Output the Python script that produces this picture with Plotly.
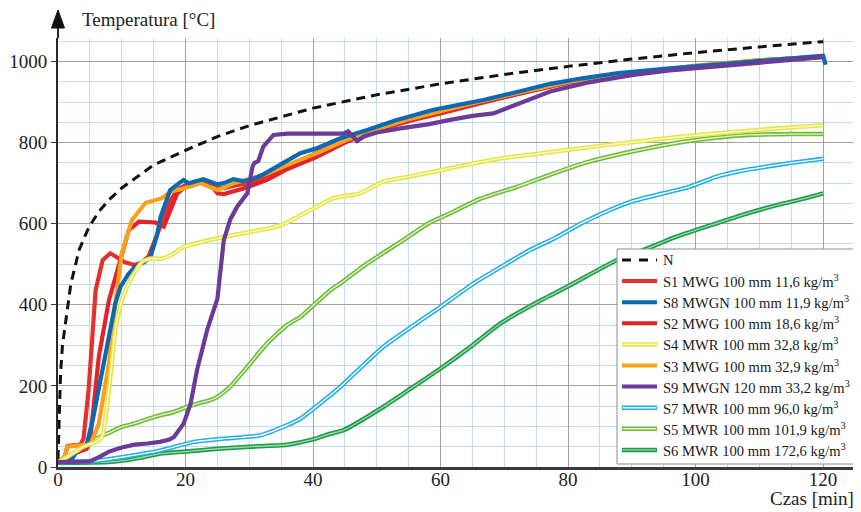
import plotly.graph_objects as go

# ---------------- data ----------------
N_t = [0, 0.15, 0.4, 0.7, 1.2, 2, 3.3, 4.8, 6.4, 8.2, 10, 15, 20, 25, 30, 40, 50, 60, 70, 80, 90, 100, 110, 120]
N_T = [20, 120, 230, 300, 360, 450, 535, 590, 630, 662, 688, 745, 781, 815, 842, 885, 918, 945, 968, 988, 1006, 1022, 1036, 1049]

S1_t = [0, 1.0, 1.5, 3.5, 4.0, 4.8, 5.9, 7.0, 8.2, 9.5, 10.5, 12.0, 13.2, 14.2, 15.5, 16.5, 17.6, 18.7, 20, 21.5, 23, 24.5, 26, 28, 30, 33, 36, 40, 44, 48, 52, 56, 60, 65, 70, 75, 80, 90, 100, 110, 120]
S1_T = [12, 22, 52, 55, 70, 190, 436, 510, 527, 515, 505, 498, 505, 520, 570, 615, 655, 685, 695, 700, 703, 690, 688, 695, 700, 720, 742, 772, 800, 822, 840, 857, 872, 893, 912, 932, 950, 968, 988, 1002, 1012]

S8_t = [0, 2, 3, 4.5, 5.5, 6.5, 7.4, 8.2, 9.0, 9.8, 11, 12.1, 13.5, 14.5, 15.5, 16.1, 17.6, 19, 19.7, 20.5, 21.5, 22.8, 24, 25, 26, 27.5, 29, 30.2, 32, 35.4, 38, 40.6, 44.3, 48.5, 53, 58.9, 61.5, 66.7, 72, 77.2, 82, 87.6, 95, 103.3, 110, 115, 120, 120.4]
S8_T = [12, 15, 40, 55, 120, 200, 272, 340, 404, 444, 475, 494, 505, 518, 570, 617, 683, 700, 708, 700, 705, 710, 703, 697, 700, 710, 705, 708, 720, 749, 774, 786, 811, 831, 855, 881, 889, 905, 925, 945, 958, 971, 982, 992, 1000, 1006, 1014, 992]

S2_t = [0, 1.5, 2, 4.5, 5.0, 6.4, 8.0, 9.5, 11.1, 12.7, 14, 15.3, 16.6, 17.6, 18.7, 20.3, 22, 22.9, 24, 25, 26, 27.5, 29.1, 32.8, 36, 40.6, 45, 50, 55, 60, 65, 70, 80, 90, 100, 110, 120]
S2_T = [12, 15, 30, 45, 60, 272, 412, 494, 584, 605, 603, 603, 593, 634, 675, 695, 700, 704, 695, 675, 673, 680, 687, 708, 735, 765, 800, 832, 855, 875, 895, 912, 948, 970, 988, 1003, 1012]

S4_t = [0, 2, 4, 6, 6.9, 8, 9, 10, 11.6, 13.2, 14.5, 16.3, 18, 19.7, 22, 25, 30.2, 33, 35.4, 38, 40.6, 43.2, 47.4, 51, 55, 58.9, 61.5, 65, 69.4, 75, 79.8, 85, 90, 98, 105, 112, 120]
S4_T = [12, 30, 50, 62, 74, 189, 338, 412, 469, 506, 514, 514, 525, 543, 553, 564, 580, 588, 599, 620, 642, 663, 675, 704, 716, 728, 737, 748, 761, 772, 782, 792, 801, 815, 825, 834, 843]

S3_t = [0, 1, 1.5, 4.5, 5.5, 6.4, 8.0, 9.0, 10.0, 11.6, 13.7, 16.3, 17.6, 19.7, 22.3, 24, 25, 26.5, 27.5, 30, 32.8, 36, 40.6, 45, 50, 55, 60, 65, 70, 80, 90, 100, 110, 120]
S3_T = [12, 25, 50, 55, 70, 107, 256, 404, 527, 609, 651, 663, 679, 687, 700, 690, 683, 692, 700, 710, 724, 745, 774, 805, 833, 858, 878, 897, 915, 950, 970, 990, 1003, 1012]

S9_t = [0, 5, 6.5, 8, 10, 12, 14, 16, 17.5, 18.2, 19.7, 20.8, 21.8, 23.4, 25, 26, 27, 28.1, 29.7, 30.5, 30.8, 31.4, 32.2, 33.8, 36, 40, 44.8, 45.5, 46.9, 48, 50, 53.7, 58, 61.5, 65, 68.3, 72, 77.2, 83, 90.2, 96, 103.3, 110, 115, 120]
S9_T = [12, 14, 25, 38, 48, 55, 58, 62, 68, 74, 107, 156, 239, 338, 415, 559, 610, 642, 675, 740, 750, 754, 790, 819, 822, 822, 822, 828, 804, 815, 825, 835, 845, 856, 866, 872, 895, 926, 948, 967, 978, 987, 997, 1004, 1011]

S7_t = [0, 5, 10, 16.1, 21.3, 26, 31.7, 35.9, 38, 42.7, 44.3, 51, 60, 65.2, 70.4, 74, 78, 82, 86, 90, 95, 99, 103.3, 107, 111.2, 115, 120]
S7_T = [12, 14, 24, 41, 62, 70, 78, 103, 119, 177, 198, 296, 395, 453, 502, 535, 565, 600, 630, 655, 675, 691, 716, 730, 741, 750, 760]

S5_t = [0, 1.5, 3, 4.8, 6, 8.2, 10, 11.9, 14, 16.1, 18, 20.2, 22, 23.9, 25, 27, 29.7, 32.8, 35.9, 38, 42.7, 44.3, 48.5, 54.2, 58, 61.5, 66, 72, 77, 82.4, 90, 98.1, 103, 108.5, 115, 120]
S5_T = [12, 15, 40, 58, 70, 86, 99, 107, 118, 128, 135, 148, 157, 165, 173, 198, 247, 305, 350, 370, 436, 453, 502, 560, 600, 626, 660, 691, 720, 749, 778, 802, 812, 819, 821, 821]

S6_t = [0, 8, 12, 16.1, 20, 25, 30, 35.9, 40, 42.7, 44.8, 51, 55, 60, 65, 69.4, 75, 79.8, 84, 87.6, 91.8, 97, 103.3, 108, 113.8, 117, 120]
S6_T = [10, 12, 20, 33, 38, 45, 50, 55, 68, 82, 91, 148, 190, 243, 300, 354, 405, 444, 480, 510, 535, 568, 601, 625, 650, 662, 675]

x_ticks = [0, 20, 40, 60, 80, 100, 120]
y_ticks = [0, 200, 400, 600, 800, 1000]

legend_labels = [
    "N",
    "S1 MWG 100 mm 11,6 kg/m<sup>3</sup>",
    "S8 MWGN 100 mm 11,9 kg/m<sup>3</sup>",
    "S2 MWG 100 mm 18,6 kg/m<sup>3</sup>",
    "S4 MWR 100 mm 32,8 kg/m<sup>3</sup>",
    "S3 MWG 100 mm 32,9 kg/m<sup>3</sup>",
    "S9 MWGN 120 mm 33,2 kg/m<sup>3</sup>",
    "S7 MWR 100 mm 96,0 kg/m<sup>3</sup>",
    "S5 MWR 100 mm 101,9 kg/m<sup>3</sup>",
    "S6 MWR 100 mm 172,6 kg/m<sup>3</sup>",
]

# ---------------- styles ----------------
FONT = "Liberation Serif"
RED1 = "#e5302c"
RED2 = "#e3222a"
BLUE = "#0b69b3"
ORANGE = "#f7a21c"
PURPLE = "#6a3c98"
YEL_O, YEL_I = "#e6e44c", "#fcfac6"
CY_O, CY_I = "#22ade6", "#ffffff"
G5_O, G5_I = "#6bba44", "#e8f4b6"
G6_O, G6_I = "#19995a", "#a6da8c"

fig = go.Figure()

def hollow(t, T, outer, inner):
    fig.add_trace(go.Scatter(x=t, y=T, mode="lines", showlegend=False,
                             line=dict(color=outer, width=4.5, shape="spline", smoothing=0.5)))
    fig.add_trace(go.Scatter(x=t, y=T, mode="lines", showlegend=False,
                             line=dict(color=inner, width=1.4, shape="spline", smoothing=0.5)))

def solid(t, T, color):
    fig.add_trace(go.Scatter(x=t, y=T, mode="lines", showlegend=False,
                             line=dict(color=color, width=4.2)))

hollow(S6_t, S6_T, G6_O, G6_I)
hollow(S7_t, S7_T, CY_O, CY_I)
hollow(S5_t, S5_T, G5_O, G5_I)
solid(S1_t, S1_T, RED1)
solid(S2_t, S2_T, RED2)
solid(S3_t, S3_T, ORANGE)
solid(S8_t, S8_T, BLUE)
hollow(S4_t, S4_T, YEL_O, YEL_I)
solid(S9_t, S9_T, PURPLE)
fig.add_trace(go.Scatter(x=N_t, y=N_T, mode="lines", showlegend=False,
                         line=dict(color="#111111", width=3, dash="9px,6px")))

# ---------------- layout geometry ----------------
# page body has an 8px default margin; target plot area is x 58..855, y 38..467 in the window
OFF = 8
W, H = 861 - OFF, 512 - OFF
ML, MR, MT, MB = 58 - OFF, 6, 38 - OFF, 45
PW, PH = W - ML - MR, H - MT - MB


def px(xw):
    """window x pixel -> paper x"""
    return (xw - OFF - ML) / PW


def py(yw):
    """window y pixel -> paper y"""
    return (H - MB - (yw - OFF)) / PH


shapes = []
annotations = []

# y-axis extension with arrow head
shapes.append(dict(type="line", xref="paper", yref="paper", x0=0, x1=0,
                   y0=1.0, y1=py(24), line=dict(color="#2a2a2a", width=2)))
shapes.append(dict(type="path", xref="paper", yref="paper",
                   path=f"M {px(58)},{py(10)} L {px(51.5)},{py(28)} L {px(64.5)},{py(28)} Z",
                   fillcolor="#111111", line=dict(color="#111111", width=1)))

annotations.append(dict(text="Temperatura [°C]", xref="paper", yref="paper",
                        x=px(80), y=py(19), xanchor="left", yanchor="middle",
                        showarrow=False, font=dict(family=FONT, size=19, color="#222222")))
annotations.append(dict(text="Czas [min]", xref="paper", yref="paper",
                        x=px(856), y=py(499), xanchor="right", yanchor="middle",
                        showarrow=False, font=dict(family=FONT, size=19, color="#222222")))

# legend box
shapes.append(dict(type="rect", xref="paper", yref="paper",
                   x0=px(617), x1=px(859), y0=py(464), y1=py(249),
                   fillcolor="white", line=dict(color="#8c8c8c", width=1), layer="above"))

styles = [
    ("dash", "#111111", None),
    ("solid", RED1, None),
    ("solid", BLUE, None),
    ("solid", RED2, None),
    ("hollow", YEL_O, YEL_I),
    ("solid", ORANGE, None),
    ("solid", PURPLE, None),
    ("hollow", CY_O, CY_I),
    ("hollow", G5_O, G5_I),
    ("hollow", G6_O, G6_I),
]
for i, (lab, (kind, c1, c2)) in enumerate(zip(legend_labels, styles)):
    yy = py(260 + i * 21.1)
    x0, x1 = px(622), px(657)
    if kind == "dash":
        shapes.append(dict(type="line", xref="paper", yref="paper", x0=x0, x1=x1, y0=yy, y1=yy,
                           line=dict(color=c1, width=3, dash="9px,8px"), layer="above"))
    elif kind == "solid":
        shapes.append(dict(type="line", xref="paper", yref="paper", x0=x0, x1=x1, y0=yy, y1=yy,
                           line=dict(color=c1, width=4), layer="above"))
    else:
        shapes.append(dict(type="line", xref="paper", yref="paper", x0=x0, x1=x1, y0=yy, y1=yy,
                           line=dict(color=c1, width=4.5), layer="above"))
        shapes.append(dict(type="line", xref="paper", yref="paper", x0=x0 + 0.001, x1=x1 - 0.001,
                           y0=yy, y1=yy, line=dict(color=c2, width=1.4), layer="above"))
    annotations.append(dict(text=lab, xref="paper", yref="paper", x=px(661), y=yy,
                            xanchor="left", yanchor="middle", showarrow=False,
                            font=dict(family=FONT, size=14.6, color="#1a1a1a")))

fig.update_layout(
    width=W, height=H,
    margin=dict(l=ML, r=MR, t=MT, b=MB, pad=0, autoexpand=False),
    paper_bgcolor="white", plot_bgcolor="white",
    font=dict(family=FONT, size=19, color="#222222"),
    shapes=shapes, annotations=annotations,
    showlegend=False,
)
fig.update_xaxes(
    range=[0, 125], tickvals=x_ticks, ticks="", showgrid=True,
    gridcolor="#ab9d99", gridwidth=1,
    minor=dict(dtick=5, tick0=0, showgrid=True, gridcolor="#c2deec", gridwidth=1),
    showline=True, linecolor="#3a3a3a", linewidth=2.5, zeroline=False,
    ticklabelstandoff=-7,
    tickfont=dict(family=FONT, size=19, color="#222222"),
)
fig.update_yaxes(
    range=[0, 1058], tickvals=y_ticks, ticks="outside", ticklen=5, tickcolor="#3a3a3a",
    showgrid=True, gridcolor="#ab9d99", gridwidth=1,
    minor=dict(dtick=50, tick0=0, showgrid=True, gridcolor="#c2deec", gridwidth=1),
    showline=True, linecolor="#2a2a2a", linewidth=2, zeroline=False,
    tickfont=dict(family=FONT, size=19, color="#222222"),
)

fig.write_html("out.html")
